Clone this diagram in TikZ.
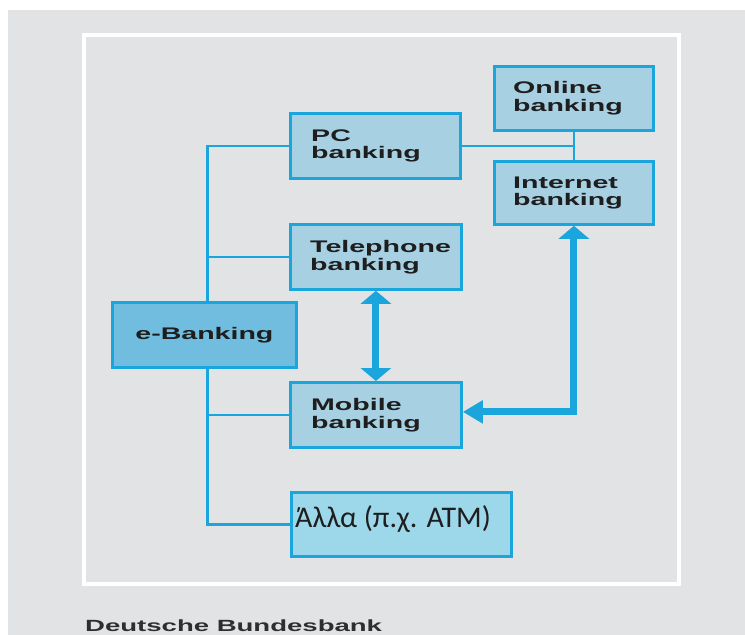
\documentclass[tikz,border=0pt]{standalone}
\usepackage{fontspec}
\usetikzlibrary{arrows.meta}
\newfontfamily\lblfont[FakeStretch=1.7]{Liberation Sans}
\newfontfamily\grfont{Carlito}
\definecolor{bggray}{HTML}{E2E3E5}
\definecolor{edgeblue}{HTML}{1AA5DC}
\definecolor{boxfill}{HTML}{A8D0E3}
\definecolor{hubfill}{HTML}{70BDE0}
\definecolor{otherfill}{HTML}{9CD7EA}
\definecolor{textdark}{HTML}{1E1E1E}
\definecolor{footgray}{HTML}{2E2E2E}
\pgfdeclarelayer{bg}
\pgfdeclarelayer{lines}
\pgfsetlayers{bg,lines,main}
\tikzset{
  box/.style={draw=edgeblue, line width=2.8pt, fill=boxfill, anchor=north west, inner sep=0pt},
  lbl/.style={font=\lblfont\bfseries\fontsize{16.8}{17.8}\selectfont, text=textdark, align=left, inner sep=0pt, anchor=west},
  link/.style={draw=edgeblue, line width=2.8pt},
  bigarrow/.style={draw=edgeblue, line width=7pt},
  headA/.tip={Triangle[width=30pt,length=13pt]},
  headB/.tip={Triangle[width=22pt,length=20pt]}
}
\begin{document}
\begin{tikzpicture}[x=1pt,y=-1pt]
\useasboundingbox (0,0) rectangle (745,635);

% page and frame
\begin{pgfonlayer}{bg}
  \fill[white] (0,0) rectangle (745,635);
  \fill[bggray] (8,10) rectangle (745,635);
  \draw[white, line width=4.5pt] (84,35) rectangle (679,584);
\end{pgfonlayer}

% boxes
\node[box, minimum width=170pt, minimum height=65pt] (pc) at (289,112) {};
\node[lbl] (pct) at ([xshift=22pt]pc.west) {PC\\banking};

\node[box, minimum width=159pt, minimum height=64pt] (online) at (493,65) {};
\node[lbl] (onlinet) at ([xshift=20pt]online.west) {Online\\banking};

\node[box, minimum width=159pt, minimum height=63pt] (inet) at (493,160) {};
\node[lbl] (inett) at ([xshift=20pt]inet.west) {Internet\\banking};

\node[box, minimum width=171pt, minimum height=65pt] (tel) at (289,223) {};
\node[lbl] (telt) at ([xshift=21pt]tel.west) {Telephone\\banking};

\node[box, fill=hubfill, minimum width=184pt, minimum height=65pt] (eb) at (111,301) {};
\node[lbl, anchor=center] (ebt) at (eb.center) {e-Banking};

\node[box, minimum width=171pt, minimum height=65pt] (mob) at (289,381) {};
\node[lbl] (mobt) at ([xshift=22pt]mob.west) {Mobile\\banking};

\node[box, fill=otherfill, minimum width=220pt, minimum height=64pt] (alla) at (290,491) {};
\node[font=\grfont\fontsize{30}{33}\selectfont, text=textdark, inner sep=0pt, anchor=west]
  (allat) at ([xshift=5pt,yshift=5pt]alla.west) {Άλλα (π.χ. ATM)};

% footer
\node[font=\lblfont\bfseries\fontsize{16.2}{18}\selectfont, text=footgray, inner sep=0pt, anchor=base west]
  (foot) at (85,631) {Deutsche Bundesbank};

% trunk line runs just right of the hub's centre
\coordinate (trunktop) at ([xshift=3pt]eb.north);
\coordinate (trunkbot) at ([xshift=3pt]eb.south);

% connectors
\begin{pgfonlayer}{lines}
  \draw[link] (pc.west) -| (trunktop);
  \draw[link] (tel.west) -- (tel.west -| trunktop);
  \draw[link] (trunkbot) |- (alla.west);
  \draw[link] (mob.west) -- (mob.west -| trunkbot);
  \draw[link] (pc.east) -- (pc.east -| online.south);
  \draw[link] (online.south) -- (inet.north);
  \draw[bigarrow, headA-headA] (tel.south) -- (mob.north);
  \draw[bigarrow, headB-headA] ([yshift=3pt]mob.east) -| (inet.south);
\end{pgfonlayer}
\end{tikzpicture}
\end{document}
